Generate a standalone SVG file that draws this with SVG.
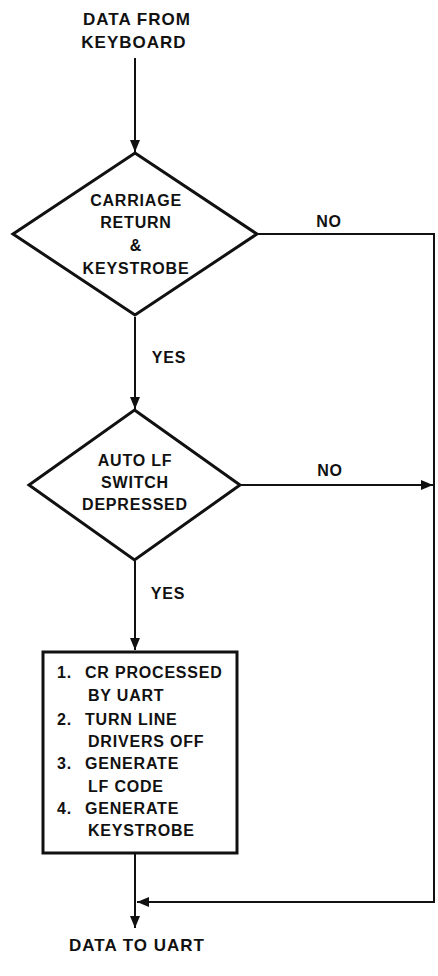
<svg xmlns="http://www.w3.org/2000/svg" width="438" height="976" viewBox="0 0 438 976">
<style>
text{font-family:"Liberation Sans",Arial,sans-serif;font-weight:bold;fill:#111;}
.t{font-size:16px;letter-spacing:0.8px;}
.big{font-size:17px;letter-spacing:1px;}
.c{text-anchor:middle;}
.shape{fill:#fff;stroke:#111;stroke-width:3;stroke-linejoin:miter;}
.ln{fill:none;stroke:#111;stroke-width:2;}
</style>
<defs>
<marker id="ah" viewBox="0 0 12 10" refX="12" refY="5" markerWidth="12" markerHeight="10" markerUnits="userSpaceOnUse" orient="auto">
<path d="M0,0 L12,5 L0,10 Z" fill="#111"/>
</marker>
</defs>
<g id="connectors">
<line class="ln" x1="135" y1="58" x2="135" y2="152" marker-end="url(#ah)"/>
<line class="ln" x1="135" y1="317" x2="135" y2="409" marker-end="url(#ah)"/>
<line class="ln" x1="135" y1="561" x2="135" y2="650" marker-end="url(#ah)"/>
<line class="ln" x1="135" y1="854" x2="135" y2="928" marker-end="url(#ah)"/>
<polyline class="ln" points="257,234 434,234 434,902 137,902" marker-end="url(#ah)"/>
<line class="ln" x1="240" y1="485" x2="433" y2="485" marker-end="url(#ah)"/>
<text class="t c" x="329" y="227">NO</text>
<text class="t c" x="330" y="476">NO</text>
<text class="t c" x="169" y="363">YES</text>
<text class="t c" x="168" y="599">YES</text>
</g>
<g id="start">
<text class="big c" x="137" y="25">DATA FROM</text>
<text class="big c" x="134" y="48">KEYBOARD</text>
</g>
<g id="decision1">
<polygon class="shape" points="135,153 257,234 135,315 13,234"/>
<text class="t c" x="136" y="206">CARRIAGE</text>
<text class="t c" x="136" y="228">RETURN</text>
<text class="t c" x="136" y="251">&amp;</text>
<text class="t c" x="136" y="274">KEYSTROBE</text>
</g>
<g id="decision2">
<polygon class="shape" points="134.5,410 240,485 134.5,560 29,485"/>
<text class="t c" x="135" y="466">AUTO LF</text>
<text class="t c" x="135" y="488">SWITCH</text>
<text class="t c" x="135" y="510">DEPRESSED</text>
</g>
<g id="process">
<rect class="shape" x="43" y="652" width="194" height="201"/>
<text class="t" x="57" y="678">1.</text>
<text class="t" x="85" y="678">CR PROCESSED</text>
<text class="t" x="88" y="701">BY UART</text>
<text class="t" x="57" y="725">2.</text>
<text class="t" x="85" y="725">TURN LINE</text>
<text class="t" x="88" y="747">DRIVERS OFF</text>
<text class="t" x="57" y="769">3.</text>
<text class="t" x="85" y="769">GENERATE</text>
<text class="t" x="88" y="792">LF CODE</text>
<text class="t" x="57" y="814">4.</text>
<text class="t" x="85" y="814">GENERATE</text>
<text class="t" x="88" y="836">KEYSTROBE</text>
</g>
<g id="end">
<text class="big c" x="137" y="951">DATA TO UART</text>
</g>
</svg>
